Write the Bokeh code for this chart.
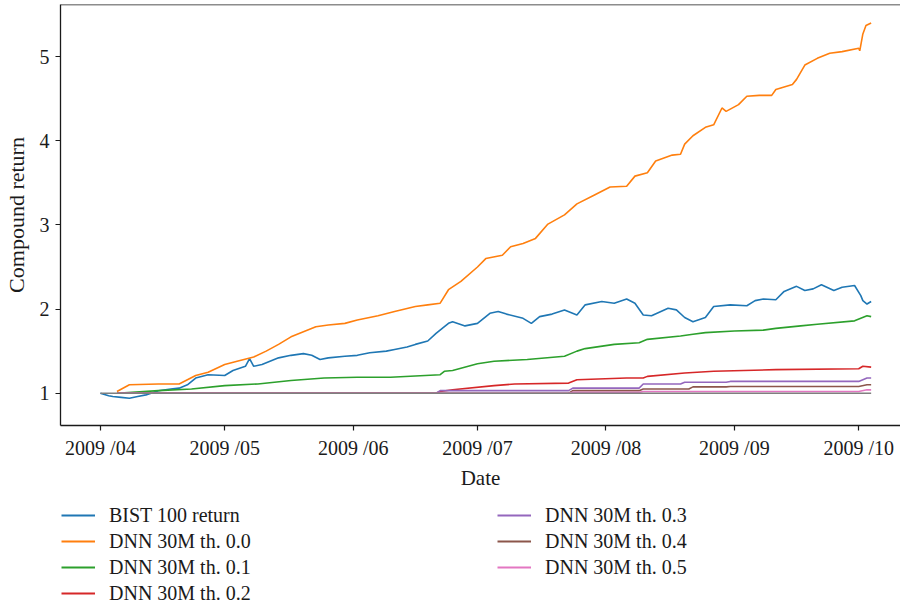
import pandas as pd
from bokeh.plotting import figure
from bokeh.layouts import column
from bokeh.models import (Legend, LegendItem, FixedTicker, DatetimeTickFormatter,
                          Range1d, Span)
from bokeh.embed import file_html
from bokeh.resources import INLINE

FONT = "Liberation Serif"
TXT = "#1a1a1a"

# ---------------- data ----------------
month_ticks = ["2009-04-01", "2009-05-01", "2009-06-01", "2009-07-01",
               "2009-08-01", "2009-09-01", "2009-10-01"]
tick_format = "%Y /%m"
y_ticks = [1, 2, 3, 4, 5]

bist_dates = ["2009-04-01", "2009-04-03", "2009-04-04", "2009-04-06", "2009-04-08",
              "2009-04-10", "2009-04-12", "2009-04-15", "2009-04-18", "2009-04-20",
              "2009-04-22", "2009-04-24", "2009-04-27", "2009-05-01", "2009-05-03",
              "2009-05-06", "2009-05-07", "2009-05-08", "2009-05-10", "2009-05-14",
              "2009-05-17", "2009-05-20", "2009-05-22", "2009-05-24", "2009-05-26",
              "2009-05-30", "2009-06-02", "2009-06-05", "2009-06-09", "2009-06-11",
              "2009-06-14", "2009-06-16", "2009-06-19", "2009-06-21", "2009-06-24",
              "2009-06-25", "2009-06-28", "2009-07-01", "2009-07-04", "2009-07-06",
              "2009-07-08", "2009-07-12", "2009-07-14", "2009-07-16", "2009-07-19",
              "2009-07-22", "2009-07-25", "2009-07-27", "2009-07-31", "2009-08-03",
              "2009-08-06", "2009-08-08", "2009-08-10", "2009-08-12", "2009-08-16",
              "2009-08-18", "2009-08-20", "2009-08-22", "2009-08-25", "2009-08-27",
              "2009-08-31", "2009-09-04", "2009-09-06", "2009-09-08", "2009-09-11",
              "2009-09-13", "2009-09-16", "2009-09-18", "2009-09-20", "2009-09-22",
              "2009-09-25", "2009-09-27", "2009-09-30", "2009-10-01 12:00",
              "2009-10-02", "2009-10-03", "2009-10-04"]
bist_vals = [1.00, 0.97, 0.96, 0.95, 0.94,
             0.96, 0.98, 1.03, 1.05, 1.06,
             1.10, 1.18, 1.22, 1.21, 1.27,
             1.32, 1.41, 1.32, 1.34, 1.42,
             1.45, 1.47, 1.45, 1.40, 1.42,
             1.44, 1.45, 1.48, 1.50, 1.52,
             1.55, 1.58, 1.62, 1.71, 1.83,
             1.85, 1.80, 1.83, 1.95, 1.97,
             1.94, 1.89, 1.83, 1.91, 1.94,
             1.99, 1.93, 2.05, 2.09, 2.07,
             2.12, 2.07, 1.93, 1.92, 2.01,
             1.99, 1.90, 1.85, 1.90, 2.03,
             2.05, 2.04, 2.10, 2.12, 2.11,
             2.21, 2.27, 2.22, 2.24, 2.29,
             2.22, 2.26, 2.28, 2.16,
             2.10, 2.06, 2.09]

th00_dates = ["2009-04-05", "2009-04-08", "2009-04-15", "2009-04-20", "2009-04-22",
              "2009-04-24", "2009-04-27", "2009-05-01", "2009-05-04", "2009-05-08",
              "2009-05-11", "2009-05-14", "2009-05-17", "2009-05-20", "2009-05-23",
              "2009-05-26", "2009-05-30", "2009-06-02", "2009-06-07", "2009-06-11",
              "2009-06-16", "2009-06-19", "2009-06-22", "2009-06-24", "2009-06-27",
              "2009-07-01", "2009-07-03", "2009-07-07", "2009-07-09", "2009-07-12",
              "2009-07-15", "2009-07-18", "2009-07-22", "2009-07-25", "2009-07-29",
              "2009-08-02", "2009-08-06", "2009-08-08", "2009-08-11", "2009-08-13",
              "2009-08-17", "2009-08-19", "2009-08-20", "2009-08-22", "2009-08-25",
              "2009-08-27", "2009-08-29", "2009-08-30", "2009-09-02", "2009-09-04",
              "2009-09-07", "2009-09-10", "2009-09-11", "2009-09-15", "2009-09-16",
              "2009-09-18", "2009-09-21", "2009-09-24", "2009-09-27", "2009-10-01",
              "2009-10-01 06:00", "2009-10-02", "2009-10-02 18:00", "2009-10-04"]
th00_vals = [1.02, 1.10, 1.11, 1.11, 1.16,
             1.21, 1.25, 1.34, 1.38, 1.43,
             1.50, 1.58, 1.67, 1.73, 1.79,
             1.81, 1.83, 1.87, 1.92, 1.97,
             2.03, 2.05, 2.07, 2.23, 2.33,
             2.50, 2.60, 2.64, 2.74, 2.78,
             2.84, 3.01, 3.12, 3.25, 3.35,
             3.45, 3.46, 3.58, 3.62, 3.76,
             3.83, 3.84, 3.96, 4.06, 4.16,
             4.19, 4.39, 4.35, 4.43, 4.53,
             4.54, 4.54, 4.61, 4.67, 4.73,
             4.90, 4.98, 5.04, 5.06, 5.10,
             5.07, 5.27, 5.37, 5.40]

th01_dates = ["2009-04-05", "2009-04-15", "2009-04-23", "2009-05-01", "2009-05-09",
              "2009-05-17", "2009-05-25", "2009-06-02", "2009-06-10", "2009-06-22",
              "2009-06-23", "2009-06-25", "2009-07-01", "2009-07-05", "2009-07-13",
              "2009-07-22", "2009-07-25", "2009-07-27", "2009-08-03", "2009-08-09",
              "2009-08-11", "2009-08-19", "2009-08-22", "2009-08-25", "2009-09-01",
              "2009-09-08", "2009-09-11", "2009-09-17", "2009-09-21", "2009-09-30",
              "2009-10-03", "2009-10-04"]
th01_vals = [1.00, 1.03, 1.05, 1.09, 1.11,
             1.15, 1.18, 1.19, 1.19, 1.22,
             1.26, 1.27, 1.35, 1.38, 1.40,
             1.44, 1.50, 1.53, 1.58, 1.60,
             1.64, 1.68, 1.70, 1.72, 1.74,
             1.75, 1.77, 1.80, 1.82, 1.86,
             1.92, 1.91]

th02_dates = ["2009-04-05", "2009-06-21", "2009-06-22", "2009-06-25", "2009-07-05",
              "2009-07-10", "2009-07-23", "2009-07-25", "2009-08-06", "2009-08-10",
              "2009-08-11", "2009-08-20", "2009-08-27", "2009-09-11", "2009-10-01",
              "2009-10-02", "2009-10-04"]
th02_vals = [1.00, 1.00, 1.02, 1.04, 1.09,
             1.11, 1.12, 1.16, 1.18, 1.18,
             1.20, 1.24, 1.26, 1.28, 1.29,
             1.32, 1.31]

th03_dates = ["2009-04-05", "2009-06-21", "2009-06-22", "2009-07-23", "2009-07-24",
              "2009-08-09", "2009-08-10", "2009-08-19", "2009-08-20", "2009-08-30",
              "2009-08-31", "2009-10-01", "2009-10-03", "2009-10-04"]
th03_vals = [1.00, 1.00, 1.03, 1.03, 1.06,
             1.06, 1.11, 1.11, 1.13, 1.13,
             1.14, 1.14, 1.18, 1.18]

th04_dates = ["2009-04-05", "2009-07-23", "2009-07-24", "2009-08-09", "2009-08-10",
              "2009-08-21", "2009-08-22", "2009-08-30", "2009-08-31", "2009-10-01",
              "2009-10-03", "2009-10-04"]
th04_vals = [1.00, 1.00, 1.03, 1.03, 1.05,
             1.05, 1.075, 1.075, 1.08, 1.08,
             1.10, 1.10]

th05_dates = ["2009-04-05", "2009-07-23", "2009-07-24", "2009-08-09", "2009-08-10",
              "2009-10-01", "2009-10-03", "2009-10-04"]
th05_vals = [1.00, 1.00, 1.01, 1.01, 1.02,
             1.02, 1.04, 1.04]

base_dates = ["2009-04-01", "2009-10-04"]
base_vals = [1.0, 1.0]

labels = ["BIST 100 return", "DNN 30M th. 0.0", "DNN 30M th. 0.1", "DNN 30M th. 0.2",
          "DNN 30M th. 0.3", "DNN 30M th. 0.4", "DNN 30M th. 0.5"]
colors = ["#1f77b4", "#ff7f0e", "#2ca02c", "#d62728", "#9467bd", "#8c564b", "#e377c2"]
series_dates = [bist_dates, th00_dates, th01_dates, th02_dates, th03_dates, th04_dates, th05_dates]
series_vals = [bist_vals, th00_vals, th01_vals, th02_vals, th03_vals, th04_vals, th05_vals]

x_start = "2009-03-22 09:00"
x_end = "2009-10-11 02:00"
y_start, y_end = 0.616, 5.62


def to_dt(lst):
    return pd.to_datetime(lst, format="mixed")


# ---------------- main chart ----------------
p = figure(width=900, height=492, x_axis_type="datetime",
           output_backend="svg", toolbar_location=None,
           x_range=Range1d(pd.Timestamp(x_start), pd.Timestamp(x_end)),
           y_range=Range1d(y_start, y_end),
           min_border_left=57, min_border_right=0, min_border_top=4,
           min_border_bottom=65)
p.outline_line_color = None
p.xgrid.visible = False
p.ygrid.visible = False

for d, v, c in zip(series_dates, series_vals, colors):
    p.line(to_dt(d), v, line_color=c, line_width=1.6)
p.line(to_dt(base_dates), base_vals, line_color="#7f7f7f", line_width=1.6)

# top spine
p.add_layout(Span(location=y_end, dimension="width", line_color=TXT, line_width=1.3))

for ax in (p.xaxis[0], p.yaxis[0]):
    ax.axis_line_color = TXT
    ax.axis_line_width = 1.3
    ax.major_tick_line_color = TXT
    ax.major_tick_line_width = 1.2
    ax.major_tick_out = 5
    ax.major_tick_in = 0
    ax.minor_tick_line_color = None
    ax.major_label_text_font = FONT
    ax.major_label_text_font_size = "20px"
    ax.major_label_text_color = TXT
    ax.axis_label_text_font = FONT
    ax.axis_label_text_font_style = "normal"
    ax.axis_label_text_color = TXT

p.xaxis.ticker = FixedTicker(ticks=[pd.Timestamp(t).value // 10**6 for t in month_ticks])
p.xaxis.formatter = DatetimeTickFormatter(days=tick_format, months=tick_format,
                                          years=tick_format, hours=tick_format)
p.xaxis.axis_label = "Date"
p.xaxis.axis_label_text_font_size = "21px"
p.xaxis.major_label_standoff = 6
p.xaxis.axis_label_standoff = 4

p.yaxis.ticker = FixedTicker(ticks=y_ticks)
p.yaxis.axis_label = "Compound return"
p.yaxis.axis_label_text_font_size = "22px"
p.yaxis.major_label_standoff = 6
p.yaxis.axis_label_standoff = 8

# ---------------- legend strip (keys only, no data drawn) ----------------
lg = figure(width=900, height=114, output_backend="svg", toolbar_location=None,
            x_range=Range1d(0, 1), y_range=Range1d(0, 1),
            x_axis_location=None, y_axis_location=None,
            min_border=0)
lg.outline_line_color = None
lg.xgrid.visible = False
lg.ygrid.visible = False
keys = [lg.line(x=[0.0], y=[float("nan")], line_color=c, line_width=2.2) for c in colors]

legend = Legend(items=[LegendItem(label=labels[i], renderers=[keys[i]]) for i in range(7)],
                location=(1, 0), orientation="vertical", ncols=2,
                label_text_font=FONT, label_text_font_size="20px", label_text_color=TXT,
                glyph_width=34, glyph_height=26, label_height=26, label_width=388,
                label_standoff=14, spacing=0, padding=0, margin=0,
                border_line_color=None, background_fill_alpha=0)
lg.add_layout(legend)

layout = column(p, lg, spacing=0)
open("out.html", "w").write(file_html(layout, INLINE))
